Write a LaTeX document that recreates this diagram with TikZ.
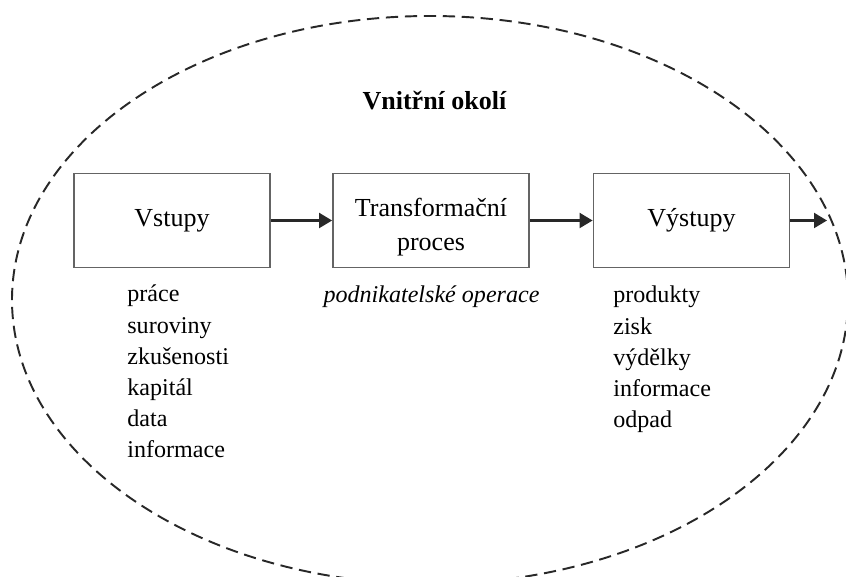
\documentclass[tikz,border=0pt]{standalone}
\usepackage{fontspec}
\setmainfont{Liberation Serif}
\usetikzlibrary{arrows.meta}

\definecolor{ramecek}{RGB}{100,100,100}
\definecolor{cara}{RGB}{40,40,40}

\tikzset{
	blok/.style={draw=ramecek, line width=1.05pt, minimum width=3.92cm, minimum height=1.88cm, inner sep=0pt, align=center, font=\fontsize{14.8}{19.3}\selectfont},
	polozka/.style={anchor=base west, inner sep=0pt, font=\fontsize{13.7}{17}\selectfont},
	sipka/.style={draw=cara, line width=1.25pt, -{Triangle[length=0.26cm, width=0.3cm]}},
	okoli/.style={draw=cara, line width=1.1pt, dash pattern=on 7pt off 3.8pt}
}

\begin{document}
\begin{tikzpicture}
		\useasboundingbox (0,0) rectangle (16.92,11.52);
		
		%Okoli
		\draw [okoli] (8.6,5.52) ellipse [x radius=8.36, y radius=5.68];
		\node [anchor=base, inner sep=0pt, font=\fontsize{14.8}{17}\selectfont\bfseries] (nadpis) at (8.69,9.32) {Vnitřní okolí};
		
		%Bloky
		\node [blok] (vstupy) at (3.44,7.11) {Vstupy};
		\node [blok] (proces) at (8.62,7.11) {\rule{0pt}{0.62cm}Transformační\\proces};
		\node [blok] (vystupy) at (13.83,7.11) {Výstupy};
		\coordinate (konec) at (16.54,7.11);
		
		\draw [sipka] (vstupy.east)--(proces.west);
		\draw [sipka] (proces.east)--(vystupy.west);
		\draw [sipka] (vystupy.east)--(konec);
		
		%Seznamy
		\foreach \slovo [count=\i] in {práce,suroviny,zkušenosti,kapitál,data,informace}
			\node [polozka] (vstup\i) at (2.54,{5.48-0.624*(\i-1)}) {\slovo};
		\foreach \slovo [count=\i] in {produkty,zisk,výdělky,informace,odpad}
			\node [polozka] (vystup\i) at (12.26,{5.46-0.625*(\i-1)}) {\slovo};
		\node [polozka, anchor=base, font=\fontsize{13.7}{17}\selectfont\itshape] (operace) at (8.63,5.46) {podnikatelské operace};
	\end{tikzpicture}
\end{document}
